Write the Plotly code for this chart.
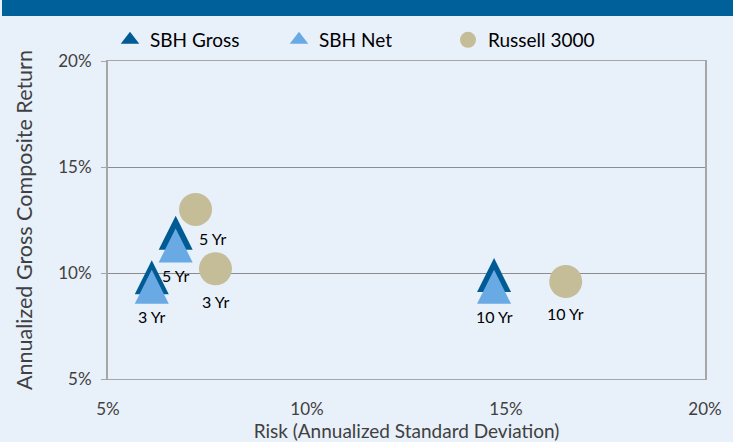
import plotly.graph_objects as go

# ---------------- data ----------------
periods = ["3 Yr", "5 Yr", "10 Yr"]
gross_risk = [6.1, 6.7, 14.7]
gross_return = [9.8, 11.9, 9.9]
net_risk = [6.1, 6.7, 14.7]
net_return = [9.35, 11.3, 9.35]
r3000_risk = [7.7, 7.2, 16.5]
r3000_return = [10.2, 13.0, 9.6]
axis_min, axis_max, axis_step = 5, 20, 5

# ---------------- style ----------------
W, H = 733, 442
ML, MR, MT, MB = 108, 28, 61, 63
PW, PH = W - ML - MR, H - MT - MB
FONT = "Lato, 'Open Sans', sans-serif"
BG = "#e8f0fa"
DARK = "#005b94"
LIGHT = "#6aaae4"
TAN = "#c4bd97"
BAR = "#00609a"
GRID = "#8c8c8c"
TXT = "#404040"
TRI = 34

tri = dict(symbol="arrow-down", angle=180, standoff=TRI / 2, size=TRI, line=dict(width=0))

fig = go.Figure()
fig.add_trace(go.Scatter(x=gross_risk, y=gross_return, mode="markers", name="SBH Gross",
                         showlegend=False, marker=dict(color=DARK, **tri)))
fig.add_trace(go.Scatter(x=net_risk, y=net_return, mode="markers", name="SBH Net",
                         showlegend=False, marker=dict(color=LIGHT, **tri)))
# legend entries for the triangle series
fig.add_trace(go.Scatter(x=[None], y=[None], mode="markers", name="SBH Gross",
                         marker=dict(color=DARK, symbol="triangle-up", size=16, line=dict(width=0))))
fig.add_trace(go.Scatter(x=[None], y=[None], mode="markers", name="SBH Net",
                         marker=dict(color=LIGHT, symbol="triangle-up", size=16, line=dict(width=0))))
fig.add_trace(go.Scatter(x=r3000_risk, y=r3000_return, mode="markers", name="Russell 3000",
                         marker=dict(color=TAN, size=33, symbol="circle", line=dict(width=0))))

# data labels
LBL = dict(family=FONT, size=16, color="#000000")
for xv, yv, t in zip(net_risk, net_return, periods):
    fig.add_annotation(x=xv, y=yv, text=t, showarrow=False, yshift=-30, font=LBL)
r_shift = {"3 Yr": (0, -33), "5 Yr": (17, -29), "10 Yr": (0, -32)}
for xv, yv, t in zip(r3000_risk, r3000_return, periods):
    dx, dy = r_shift[t]
    fig.add_annotation(x=xv, y=yv, text=t, showarrow=False, xshift=dx, yshift=dy, font=LBL)

# top banner
fig.add_shape(type="rect", xref="paper", yref="paper",
              x0=(2 - ML) / PW, x1=(W + 5 - ML) / PW,
              y0=1 + (MT - 16) / PH, y1=1 + (MT + 5) / PH,
              fillcolor=BAR, line=dict(width=0), layer="above")

fig.update_layout(
    width=W, height=H,
    margin=dict(l=ML, r=MR, t=MT, b=MB, pad=0, autoexpand=False),
    paper_bgcolor=BG, plot_bgcolor=BG,
    font=dict(family=FONT, color=TXT),
    showlegend=True,
    legend=dict(orientation="h", x=(110 - ML) / PW, xanchor="left",
                y=1 + (MT - 40) / PH, yanchor="middle",
                font=dict(family=FONT, size=19, color="#000000"),
                entrywidth=124, entrywidthmode="pixels",
                bgcolor="rgba(0,0,0,0)"),
    xaxis=dict(range=[axis_min, axis_max], tick0=axis_min, dtick=axis_step, ticksuffix="%",
               automargin=False, showgrid=False, zeroline=False,
               showline=True, linecolor="#a6a6a6", linewidth=1, mirror=True,
               ticks="", ticklabelstandoff=15,
               tickfont=dict(family=FONT, size=17, color=TXT),
               title=dict(text="Risk (Annualized Standard Deviation)", standoff=11,
                          font=dict(family=FONT, size=19, color=TXT))),
    yaxis=dict(range=[axis_min, axis_max], tick0=axis_min, dtick=axis_step, ticksuffix="%",
               automargin=False, showgrid=True, gridcolor=GRID, gridwidth=1, zeroline=False,
               showline=True, linecolor="#a6a6a6", linewidth=2, mirror=True,
               ticks="outside", ticklen=5, tickcolor="#a6a6a6", ticklabelstandoff=6,
               tickfont=dict(family=FONT, size=17, color=TXT),
               title=dict(text="Annualized Gross Composite Return", standoff=20,
                          font=dict(family=FONT, size=21.5, color=TXT))),
)

fig.write_html("out.html", config={"displayModeBar": False},
               post_script="document.body.style.margin='0';")
